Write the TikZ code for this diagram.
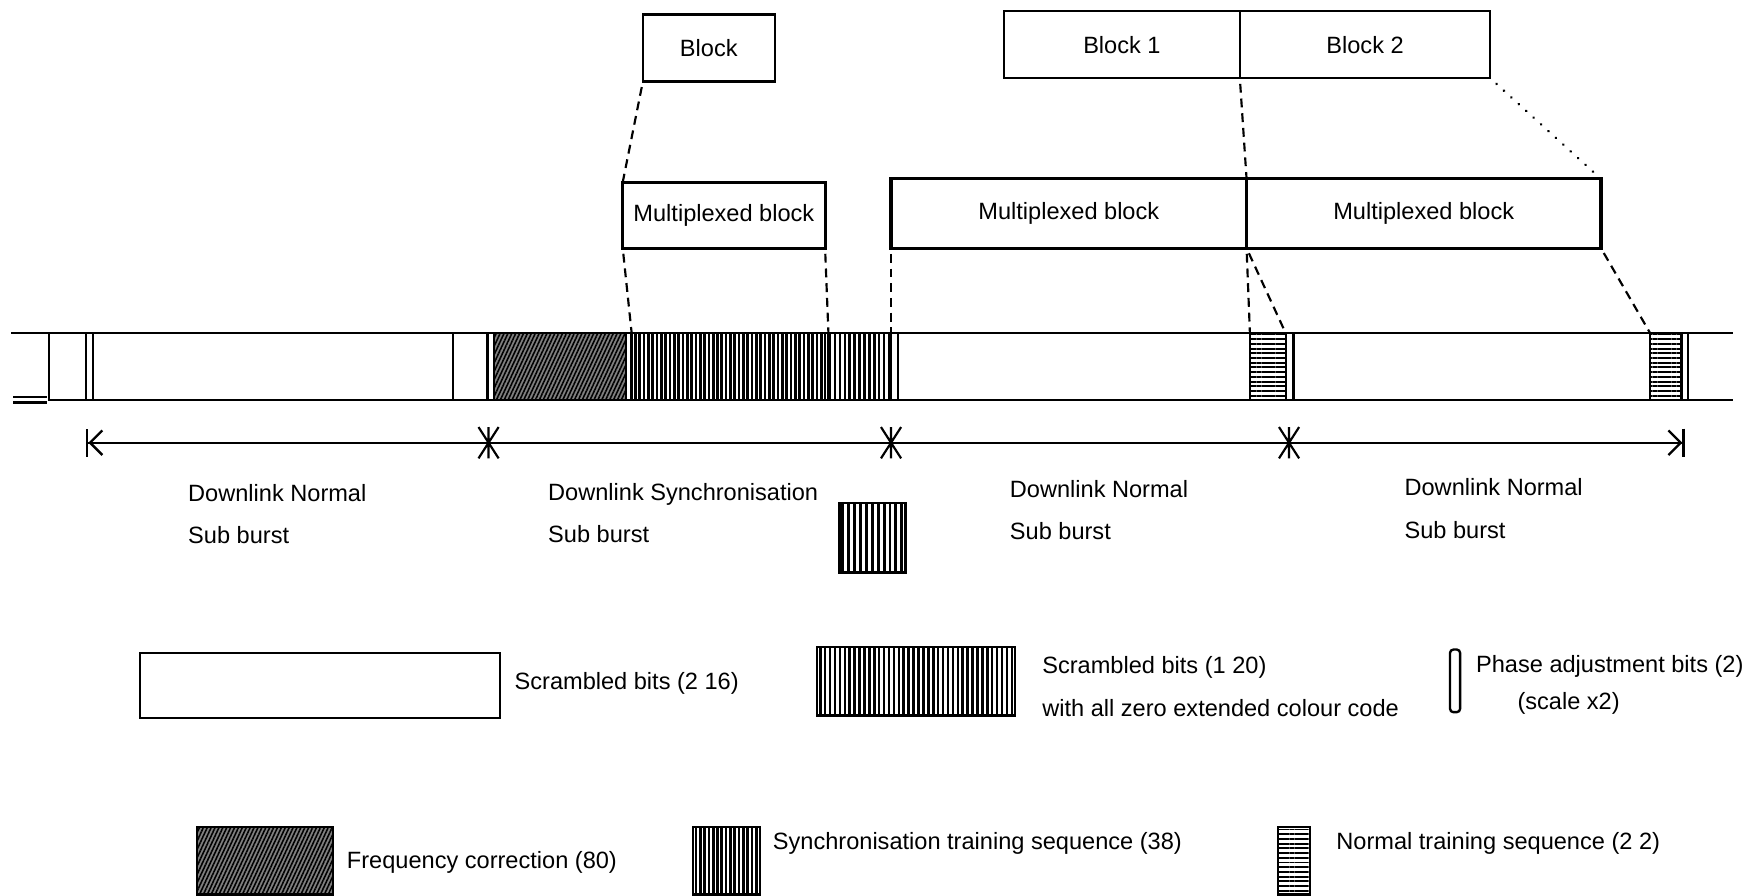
\documentclass[tikz,border=0pt]{standalone}
\usepackage{fontspec}
\setmainfont{Liberation Sans}
\usetikzlibrary{arrows.meta, positioning, patterns.meta}
\tikzset{
  blockbox/.style={draw=black,line width=1.2pt,minimum height=12mm,inner sep=0pt,outer sep=0pt,anchor=north west},
  muxbox/.style={blockbox,line width=1.6pt,minimum height=12.4mm},
  segbox/.style={draw=black,line width=1.2pt,minimum height=12mm,inner sep=0pt,outer sep=0pt,anchor=north west},
  scrbox/.style={segbox,pattern={Lines[angle=90,distance=2.5pt,line width=1.3pt]}},
  synbox/.style={segbox,pattern={Lines[angle=90,distance=2.2pt,line width=1.35pt]}},
  coarsebox/.style={segbox,pattern={Lines[angle=90,distance=3pt,line width=1.5pt]}},
  ntsbox/.style={segbox,pattern={Lines[angle=0,distance=2.4pt,line width=1pt]}},
  fcbox/.style={segbox,preaction={fill=black!50},pattern={Lines[angle=65,distance=1.8pt,line width=0.8pt]}},
  mapline/.style={line width=1.1pt,dash pattern=on 4.5pt off 3pt,shorten <=1mm},
  dotline/.style={line width=1.4pt,line cap=round,dash pattern=on 0.1pt off 5pt,shorten <=1.5mm},
  barline/.style={line width=1.2pt},
  timeline/.style={line width=1.2pt,arrows={Bar[width=5mm,sep=0pt]Straight Barb[length=2.2mm,width=4.4mm]-Straight Barb[length=2.2mm,width=4.4mm]Bar[width=5mm,sep=0pt]}},
  starmark/.style={line width=1.1pt},
  txt/.style={anchor=west,inner sep=0pt},
  sublbl/.style={anchor=north west,inner sep=0pt,align=left,font=\fontsize{12}{21.5}\selectfont},
}

\begin{document}
\begin{tikzpicture}[x=0.2mm,y=-0.2mm,font=\fontsize{12}{14}\selectfont]
  \useasboundingbox (0,0) rectangle (1568,801);
  % blocks
  \node[blockbox,minimum width=23.6mm] (blk) at (575,13) {Block};
  \node[blockbox,minimum width=42.2mm] (blk1) at (898,10) {Block 1};
  \node[blockbox,minimum width=44.8mm,right=0mm of blk1] (blk2) {Block 2};
  \node[muxbox,minimum width=36.2mm,minimum height=11.8mm] (mux0) at (557,163) {Multiplexed block};
  \node[muxbox,minimum width=63.6mm] (mux1) at (797,160) {Multiplexed block};
  \node[muxbox,minimum width=63.4mm,right=0mm of mux1] (mux2) {Multiplexed block};
  % burst
  \coordinate (toplft) at (10,298);
  \coordinate (toprgt) at (1550,298);
  \coordinate (botlft) at (44,358);
  \coordinate (botrgt) at (1550,358);
  \coordinate (endla) at (12,355);
  \coordinate (endlb) at (42,355);
  \coordinate (endlc) at (12,360);
  \coordinate (endld) at (42,360);
  \draw[barline] (toplft) -- (toprgt);
  \draw[barline] (botlft) -- (botrgt);
  \draw[barline] (endla) -- (endlb);
  \draw[barline] (endlc) -- (endld);
  \node[segbox,minimum width=6.6mm] (tl0) at (44,298) {};
  \node[segbox,minimum width=1.2mm] (pa0) at (77,298) {};
  \node[segbox,minimum width=64.4mm] (sb0) at (83,298) {};
  \node[segbox,minimum width=6.2mm] (tl1) at (405,298) {};
  \node[segbox,minimum width=1.2mm] (pa1) at (436,298) {};
  \node[fcbox,minimum width=23.6mm] (fc) at (442,298) {};
  \node[segbox,minimum width=1mm] (pa5) at (560,298) {};
  \node[synbox,minimum width=34.6mm] (st) at (565,298) {};
  \node[scrbox,minimum width=11.2mm] (sc) at (741,298) {};
  \node[segbox,minimum width=1.2mm] (pa2) at (797,298) {};
  \node[segbox,minimum width=63mm] (sb1) at (803,298) {};
  \node[ntsbox,minimum width=6.4mm] (nt1) at (1118,298) {};
  \node[segbox,minimum width=1.4mm] (pa3) at (1150,298) {};
  \node[segbox,minimum width=63.8mm] (sb2) at (1157,298) {};
  \node[ntsbox,minimum width=5.6mm] (nt2) at (1476,298) {};
  \node[segbox,minimum width=1.2mm] (pa4) at (1504,298) {};
  % mapping lines
  \draw[mapline] (blk.south west) -- (mux0.north west);
  \draw[mapline] (blk1.south east) -- (mux1.north east);
  \draw[dotline] (blk2.south east) -- (mux2.north east);
  \draw[mapline] (mux0.south west) -- (st.north west);
  \draw[mapline] (mux0.south east) -- (sc.north west);
  \draw[mapline] (mux1.south west) -- (pa2.north west);
  \draw[mapline] (mux1.south east) -- (nt1.north west);
  \draw[mapline] (mux1.south east) -- (nt1.north east);
  \draw[mapline] (mux2.south east) -- (nt2.north west);
  % sub bursts
  \coordinate (tlft) at (77,396);
  \coordinate (s1) at (437,396);
  \coordinate (s2) at (797,396);
  \coordinate (s3) at (1153,396);
  \coordinate (trgt) at (1507,396);
  \draw[timeline] (tlft) -- (trgt);
  \foreach \m in {s1,s2,s3} {
    \draw[starmark] ([shift={(0,-14)}]\m) -- ([shift={(0,14)}]\m)
      ([shift={(-9,-14)}]\m) -- ([shift={(9,14)}]\m)
      ([shift={(9,-14)}]\m) -- ([shift={(-9,14)}]\m);
  }
  \node[sublbl] (lb0) at (168,433) {Downlink Normal\\Sub burst};
  \node[sublbl] (lb1) at (490,432) {Downlink Synchronisation\\Sub burst};
  \node[sublbl] (lb2) at (903,429) {Downlink Normal\\Sub burst};
  \node[sublbl] (lb3) at (1256,428) {Downlink Normal\\Sub burst};
  \node[coarsebox,minimum width=11.8mm,minimum height=12.4mm] (hs) at (751,450) {};
  % legend
  \node[segbox,minimum width=64.4mm,minimum height=11.6mm] (lgsb) at (125,584) {};
  \node[txt] (tsb) at (460,611) {Scrambled bits (2 16)};
  \node[scrbox,minimum width=35.4mm,minimum height=12.2mm] (lgsc) at (731,579) {};
  \node[txt] (tsc) at (932,597) {Scrambled bits (1 20)};
  \node[txt] (tsc2) at (932,633) {with all zero extended colour code};
  \node[segbox,rounded corners=0.6mm,minimum width=1.8mm,minimum height=11.2mm] (lgpa) at (1297,581) {};
  \node[txt] (tpa) at (1320,596) {Phase adjustment bits (2)};
  \node[txt] (tpa2) at (1357,629) {(scale x2)};
  \node[fcbox,minimum width=24.4mm] (lgfc) at (176,740) {};
  \node[txt] (tfc) at (310,771) {Frequency correction (80)};
  \node[synbox,minimum width=12mm] (lgst) at (620,740) {};
  \node[txt] (tst) at (691,754) {Synchronisation training sequence (38)};
  \node[ntsbox,minimum width=5.8mm] (lgnt) at (1143,740) {};
  \node[txt] (tnt) at (1195,754) {Normal training sequence (2 2)};
\end{tikzpicture}
\end{document}
